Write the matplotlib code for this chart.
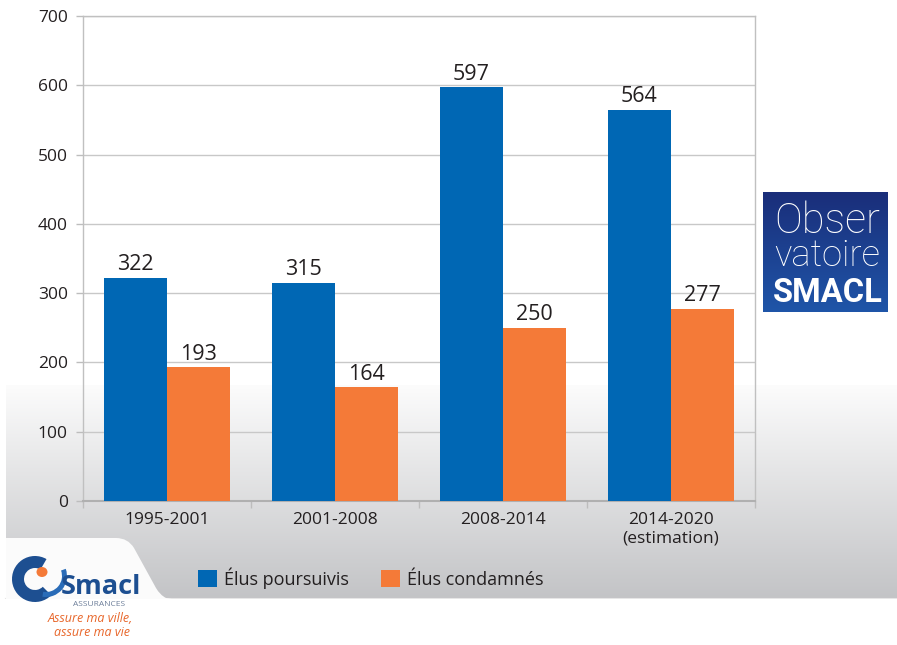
import numpy as np
import matplotlib
matplotlib.use("Agg")
import matplotlib.pyplot as plt
from matplotlib.patches import Rectangle, PathPatch, Wedge, Ellipse
from matplotlib.path import Path

# ---- data ----
periods = ["1995-2001", "2001-2008", "2008-2014", "2014-2020\n(estimation)"]
elus_poursuivis = [322, 315, 597, 564]
elus_condamnes = [193, 164, 250, 277]
series_names = ["Élus poursuivis", "Élus condamnés"]
y_ticks = [0, 100, 200, 300, 400, 500, 600, 700]

BLUE = "#0067b4"
ORANGE = "#f47a38"
TEXT = "#231f20"
GRID = "#c8c8c8"
FONT = ["Open Sans", "DejaVu Sans"]
plt.rcParams["font.family"] = FONT

W, H = 897, 645
fig = plt.figure(figsize=(W / 100, H / 100), dpi=100)
fig.patch.set_facecolor("white")

# ---- background layer in pixel coordinates ----
bg = fig.add_axes([0, 0, 1, 1], zorder=-1)
bg.set_xlim(0, W)
bg.set_ylim(H, 0)
bg.axis("off")

# grey gradient behind the lower part of the chart
top_y, bot_y = 385, 598
n = 200
t = np.linspace(0, 1, n)[:, None]
c0 = np.array([0.988, 0.988, 0.988])
c1 = np.array([0.765, 0.768, 0.778])
grad = (c0 + (c1 - c0) * t)[:, None, :].repeat(2, axis=1)
bg.imshow(grad, extent=(6, W, bot_y, top_y), aspect="auto", interpolation="bilinear", zorder=0)
bg.plot([6, W], [bot_y + 0.5, bot_y + 0.5], color="#e6e6e6", lw=1.5, zorder=1)

# white tab holding the company logo
verts = [(6, 538), (116, 538), (128, 538), (134, 548), (156, 588),
         (160, 595), (166, 598), (172, 599), (6, 599), (6, 538)]
codes = [Path.MOVETO, Path.LINETO, Path.CURVE3, Path.CURVE3, Path.LINETO,
         Path.CURVE3, Path.CURVE3, Path.LINETO, Path.LINETO, Path.CLOSEPOLY]
bg.add_patch(PathPatch(Path(verts, codes), facecolor="#fbfbfb", edgecolor="none", zorder=2))
bg.add_patch(Rectangle((0, 599), W, H - 599, facecolor="white", edgecolor="none", zorder=2))

# Smacl logo: swirl, orange dot and lettering
LOGO_BLUE = "#1d4f91"
bg.add_patch(Wedge((35, 579), 23, 45, 300, width=12, facecolor=LOGO_BLUE, edgecolor="none", zorder=3))
bg.add_patch(Wedge((46, 576), 21, 340, 100, width=5, facecolor="#2a6cb8", edgecolor="none", zorder=3))
bg.add_patch(Ellipse((42, 572), 11, 10, facecolor=ORANGE, edgecolor="none", zorder=4))
bg.text(61, 594, "Smacl", fontsize=19.5, fontweight="bold", color=LOGO_BLUE,
        ha="left", va="baseline", zorder=5)
bg.text(99, 605, "ASSURANCES", fontsize=6, color="#6d7f9a", ha="center", va="center", zorder=5)
bg.text(90, 619, "Assure ma ville,", fontsize=9, style="italic", color="#e8662a",
        ha="center", va="center", zorder=5)
bg.text(92, 633, "assure ma vie", fontsize=9, style="italic", color="#e8662a",
        ha="center", va="center", zorder=5)

# Observatoire box
bx0, bx1, by0, by1 = 763, 888, 192, 312
tt = np.linspace(0, 1, 100)[:, None]
b0 = np.array([0x1a, 0x2e, 0x7a]) / 255
b1 = np.array([0x1f, 0x55, 0xa8]) / 255
bgrad = (b0 + (b1 - b0) * tt)[:, None, :].repeat(2, axis=1)
bg.imshow(bgrad, extent=(bx0, bx1, by1, by0), aspect="auto", interpolation="bilinear", zorder=3)

box_texts = [
    ("Obser", 233, "light", 106),
    ("vatoire", 266, "light", 106),
    ("SMACL", 302, "bold", 110),
]
txt_objs = []
for s, yb, wgt, wtarget in box_texts:
    txt_objs.append((bg.text((772 + 883) / 2, yb, s, fontsize=24, fontweight=wgt, color="white",
                             family=["Roboto", "DejaVu Sans"], ha="center", va="baseline",
                             zorder=5), wtarget))

# ---- main chart ----
ax = fig.add_axes([83 / W, 1 - 501 / H, 672 / W, 485 / H])
ax.set_facecolor("none")
x = np.arange(len(periods))
bw = 0.375
b1_ = ax.bar(x - bw / 2, elus_poursuivis, bw, color=BLUE, zorder=3, label=series_names[0])
b2_ = ax.bar(x + bw / 2, elus_condamnes, bw, color=ORANGE, zorder=3, label=series_names[1])

for bars, vals in ((b1_, elus_poursuivis), (b2_, elus_condamnes)):
    for r, v in zip(bars, vals):
        ax.annotate(f"{v}", (r.get_x() + r.get_width() / 2, v), xytext=(0, 2),
                    textcoords="offset points", ha="center", va="bottom",
                    fontsize=15.5, color=TEXT, zorder=4)

ax.set_xlim(-0.5, len(periods) - 0.5)
ax.set_ylim(0, 700)
ax.set_yticks(y_ticks)
ax.yaxis.grid(True, color=GRID, lw=1, zorder=0)
ax.set_axisbelow(True)
ax.set_xticks(np.arange(-0.5, len(periods), 1.0))
ax.set_xticklabels([])
ax.set_xticks(x, minor=True)
ax.set_xticklabels(periods, minor=True)
ax.tick_params(axis="x", which="minor", length=0, pad=8, labelsize=12.5, labelcolor=TEXT)
ax.tick_params(axis="x", which="major", length=5, color="#bdbdbd", width=1)
ax.tick_params(axis="y", length=5, color="#bdbdbd", width=1, pad=6, labelsize=12.5, labelcolor=TEXT)
for sp in ax.spines.values():
    sp.set_color("#c0c0c0")
    sp.set_linewidth(1)
ax.spines["bottom"].set_color("#b0b0b0")
ax.spines["bottom"].set_linewidth(1.5)

leg = fig.legend(handles=[b1_, b2_], labels=series_names, loc="center left",
                 bbox_to_anchor=(198 / W, 1 - 578 / H), ncol=2, frameon=False,
                 fontsize=13, handlelength=1.05, handleheight=1.05, handletextpad=0.4,
                 columnspacing=1.75, borderaxespad=0, borderpad=0)
for tx in leg.get_texts():
    tx.set_color(TEXT)

# fit the box lettering to the box width
fig.canvas.draw()
r = fig.canvas.get_renderer()
for t_, wtarget in txt_objs:
    wpx = t_.get_window_extent(r).width
    t_.set_fontsize(t_.get_fontsize() * wtarget / wpx)

fig.savefig("out.png", dpi=100)
